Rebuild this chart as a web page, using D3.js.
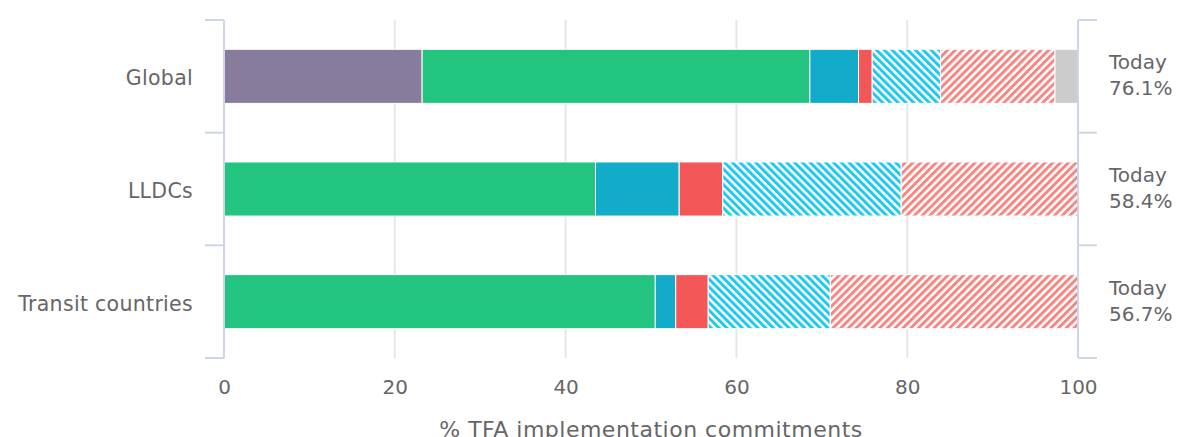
<!DOCTYPE html>
<html>
<head>
<meta charset="utf-8">
<script src="https://cdnjs.cloudflare.com/ajax/libs/d3/7.8.5/d3.min.js"></script>
<style>
	body { margin: 0; background: #fff; }
	text { font-family: "DejaVu Sans", Verdana, sans-serif; }
</style>
</head>
<body>
<div class="tfa-chart"></div>
<script>

// categories and stacked series (% of TFA commitments)
var categories = ["Global", "LLDCs", "Transit countries"];
var seriesKeys = ["notifA", "implemented", "implementing", "notImplemented", "planned", "notPlanned", "noData"];
var notifA = [23.2, 0, 0];
var implemented = [45.4, 43.5, 50.5];
var implementing = [5.7, 9.8, 2.4];
var notImplemented = [1.6, 5.1, 3.8];
var planned = [8.0, 20.9, 14.3];
var notPlanned = [13.4, 20.7, 29.0];
var noData = [2.7, 0, 0];
var todayValues = ["76.1%", "58.4%", "56.7%"];
var xTicks = [0, 20, 40, 60, 80, 100];

var drawChart = {

	init: function() {
		var w = 1177;
		var h = 437;
		var left = 224, right = 1078, top = 20, bottom = 358;
		var axisColor = '#ccd6eb';

		var svg = d3.select('.tfa-chart')
			.append('svg')
			.attr('width', w)
			.attr('height', h);

		var defs = svg.append('defs');
		drawChart.hatch(defs, 'hatch-blue', '#1fc8ec', -45);
		drawChart.hatch(defs, 'hatch-red', '#f58783', 45);

		var fills = {
			notifA: '#887c9d',
			implemented: '#23c47f',
			implementing: '#13abca',
			notImplemented: '#f35757',
			planned: 'url(#hatch-blue)',
			notPlanned: 'url(#hatch-red)',
			noData: '#cccccc'
		};

		var rows = categories.map(function(c, i) {
			return {
				cat: c,
				notifA: notifA[i],
				implemented: implemented[i],
				implementing: implementing[i],
				notImplemented: notImplemented[i],
				planned: planned[i],
				notPlanned: notPlanned[i],
				noData: noData[i]
			};
		});
		var stacked = d3.stack().keys(seriesKeys)(rows);

		var x = d3.scaleLinear().domain([0, 100]).range([left, right]);
		var y = d3.scaleBand()
			.domain(categories)
			.range([top, bottom])
			.paddingInner(0.52)
			.paddingOuter(0.26);

		// grid lines
		svg.append('g')
			.selectAll('line')
			.data(xTicks.slice(1, -1))
			.enter()
			.append('line')
			.attr('x1', function(d) { return x(d); })
			.attr('x2', function(d) { return x(d); })
			.attr('y1', top)
			.attr('y2', bottom)
			.attr('stroke', '#e6e6e6')
			.attr('stroke-width', 2);

		// bars
		svg.append('g')
			.selectAll('g')
			.data(stacked)
			.enter()
			.append('g')
			.attr('fill', function(d) { return fills[d.key]; })
			.selectAll('rect')
			.data(function(d) { return d.filter(function(s) { return s[1] - s[0] > 0; }); })
			.enter()
			.append('rect')
			.attr('x', function(d) { return x(d[0]); })
			.attr('width', function(d) { return x(d[1]) - x(d[0]); })
			.attr('y', function(d) { return y(d.data.cat); })
			.attr('height', y.bandwidth())
			.attr('stroke', '#ffffff')
			.attr('stroke-width', 1);

		// category boundaries for the tick marks
		var step = y.step();
		var bounds = categories.map(function(c) {
			return y(c) - step * y.paddingInner() / 2;
		});
		bounds.push(bounds[bounds.length - 1] + step);

		var leftAxis = svg.append('g');
		leftAxis.append('line')
			.attr('x1', left).attr('x2', left)
			.attr('y1', top).attr('y2', bottom)
			.attr('stroke', axisColor).attr('stroke-width', 2);
		leftAxis.selectAll('.tk')
			.data(bounds)
			.enter()
			.append('line')
			.attr('x1', left - 19).attr('x2', left)
			.attr('y1', function(d) { return d; })
			.attr('y2', function(d) { return d; })
			.attr('stroke', axisColor).attr('stroke-width', 2);

		var rightAxis = svg.append('g');
		rightAxis.append('line')
			.attr('x1', right).attr('x2', right)
			.attr('y1', top).attr('y2', bottom)
			.attr('stroke', axisColor).attr('stroke-width', 2);
		rightAxis.selectAll('.tk')
			.data(bounds)
			.enter()
			.append('line')
			.attr('x1', right).attr('x2', right + 19)
			.attr('y1', function(d) { return d; })
			.attr('y2', function(d) { return d; })
			.attr('stroke', axisColor).attr('stroke-width', 2);

		// category labels
		svg.append('g')
			.selectAll('text')
			.data(categories)
			.enter()
			.append('text')
			.text(function(d) { return d; })
			.attr('x', 193)
			.attr('y', function(d) { return y(d) + y.bandwidth() / 2 + 9; })
			.attr('text-anchor', 'end')
			.attr('font-size', '20.5px')
			.attr('letter-spacing', '0.3px')
			.attr('fill', '#666666');

		// "Today" labels on the right
		var today = svg.append('g')
			.selectAll('text')
			.data(categories)
			.enter()
			.append('text')
			.attr('x', 1109)
			.attr('y', function(d) { return y(d) + y.bandwidth() / 2 - 7; })
			.attr('font-size', '20px')
			.attr('fill', '#666666');
		today.append('tspan')
			.text('Today');
		today.append('tspan')
			.attr('x', 1109)
			.attr('dy', 26)
			.text(function(d, i) { return todayValues[i]; });

		// x axis tick labels
		var xAxis = d3.axisBottom(x).tickValues(xTicks).tickSize(0).tickPadding(0);
		var xg = svg.append('g')
			.attr('transform', 'translate(0,' + 380 + ')')
			.call(xAxis);
		xg.select('.domain').remove();
		xg.selectAll('text')
			.attr('font-family', '"DejaVu Sans", Verdana, sans-serif')
			.attr('font-size', '20px')
			.attr('fill', '#666666')
			.attr('dy', '0.71em');

		svg.append('text')
			.text('% TFA implementation commitments')
			.attr('x', (left + right) / 2)
			.attr('y', 437)
			.attr('text-anchor', 'middle')
			.attr('font-size', '22px')
			.attr('letter-spacing', '0.5px')
			.attr('fill', '#666666');
	},

	hatch: function(defs, id, color, angle) {
		var p = defs.append('pattern')
			.attr('id', id)
			.attr('patternUnits', 'userSpaceOnUse')
			.attr('width', 5.5)
			.attr('height', 5.5)
			.attr('patternTransform', 'rotate(' + angle + ')');
		p.append('rect')
			.attr('width', 5.5).attr('height', 5.5)
			.attr('fill', '#ffffff');
		p.append('rect')
			.attr('width', 3).attr('height', 5.5)
			.attr('fill', color);
	}
};

drawChart.init();
</script>
</body>
</html>
